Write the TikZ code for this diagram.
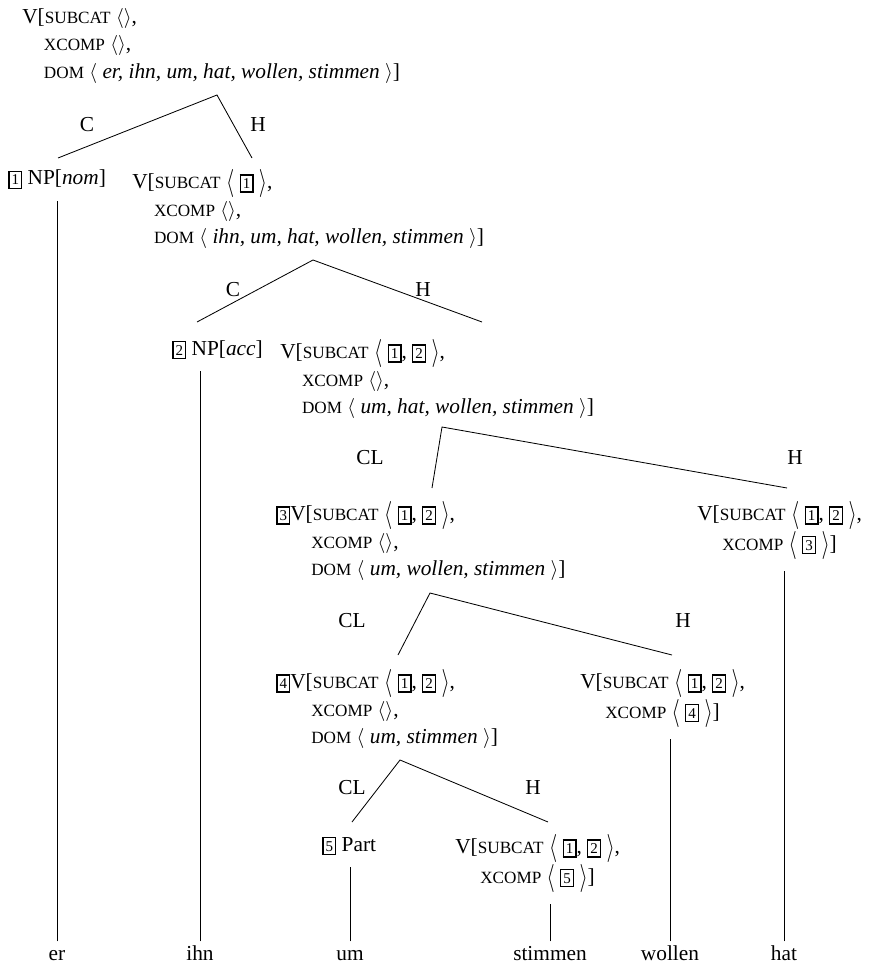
\documentclass[tikz,border=0pt]{standalone}
\usepackage{fontspec}
\setmainfont{Liberation Serif}
\usetikzlibrary{positioning}

% feature names, boxed tags and lists
\newcommand{\feat}[1]{{\fontsize{10.3}{11}\selectfont #1}}
\newcommand{\tagbox}[1]{{\setlength{\fboxsep}{1.2pt}\setlength{\fboxrule}{0.75pt}\fbox{\fontsize{9}{9}\selectfont\rule[-0.6pt]{0pt}{7pt}#1}}}
\newcommand{\nolist}{$\langle\rangle$}
\newcommand{\lang}{$\vcenter{\hbox{\scalebox{1.05}[1.4]{$\langle$}}}$}
\newcommand{\rang}{$\vcenter{\hbox{\scalebox{1.05}[1.4]{$\rangle$}}}$}
\newcommand{\taglist}[1]{\lang\hspace{3.2pt}#1\hspace{3.2pt}\rang}

\begin{document}
\begin{tikzpicture}[
  x=0.6pt, y=-0.6pt,
  font=\fontsize{12.8}{16.6}\selectfont,
  avm/.style={anchor=north west, inner sep=0pt, align=left},
  cat/.style={anchor=base west, inner sep=0pt},
  word/.style={anchor=base, inner sep=0pt, text height=8pt, text depth=2pt},
  lbl/.style={inner sep=0pt},
  branch/.style={line width=0.5pt},
  stem/.style={line width=0.5pt, shorten >=7pt, shorten <=3pt},
]
\useasboundingbox (0,0) rectangle (873,970);

% Root
\node[avm] (root) at (22,8) {V[\feat{SUBCAT} \nolist,\\
  \hspace*{13pt}\feat{XCOMP} \nolist,\\
  \hspace*{13pt}\feat{DOM} $\langle$ \textit{er, ihn, um, hat, wollen, stimmen} $\rangle$]};

\coordinate (b1) at (217,95);
\coordinate (b1l) at (58,158);
\coordinate (b1r) at (252,158);
\draw[branch] (b1l) -- (b1) -- (b1r);
\node[lbl] (c1) at (87,125) {C};
\node[lbl] (h1) at (258,125) {H};

% Level 1
\node[cat] (np1) at (8,185) {\tagbox{1} NP[\textit{nom}]};
\node[avm] (v1) at (132,169) {V[\feat{SUBCAT} \taglist{\tagbox{1}},\\
  \hspace*{13pt}\feat{XCOMP} \nolist,\\
  \hspace*{13pt}\feat{DOM} $\langle$ \textit{ihn, um, hat, wollen, stimmen} $\rangle$]};

\coordinate (b2) at (313,260);
\coordinate (b2l) at (197,322);
\coordinate (b2r) at (482,322);
\draw[branch] (b2l) -- (b2) -- (b2r);
\node[lbl] (c2) at (233,290) {C};
\node[lbl] (h2) at (423,290) {H};

% Level 2
\node[cat] (np2) at (172,355) {\tagbox{2} NP[\textit{acc}]};
\node[avm] (v2) at (280,339) {V[\feat{SUBCAT} \taglist{\tagbox{1}, \tagbox{2}},\\
  \hspace*{13pt}\feat{XCOMP} \nolist,\\
  \hspace*{13pt}\feat{DOM} $\langle$ \textit{um, hat, wollen, stimmen} $\rangle$]};

\coordinate (b3) at (442,427);
\coordinate (b3l) at (432,488);
\coordinate (b3r) at (787,488);
\draw[branch] (b3l) -- (b3) -- (b3r);
\node[lbl] (c3) at (370,458) {CL};
\node[lbl] (h3) at (795,458) {H};

% Level 3
\node[avm] (v3) at (276,501) {\tagbox{3}V[\feat{SUBCAT} \taglist{\tagbox{1}, \tagbox{2}},\\
  \hspace*{21pt}\feat{XCOMP} \nolist,\\
  \hspace*{21pt}\feat{DOM} $\langle$ \textit{um, wollen, stimmen} $\rangle$]};
\node[avm] (hv3) at (697,501) {V[\feat{SUBCAT} \taglist{\tagbox{1}, \tagbox{2}},\\
  \hspace*{15pt}\feat{XCOMP} \taglist{\tagbox{3}}]};

\coordinate (b4) at (430,593);
\coordinate (b4l) at (398,655);
\coordinate (b4r) at (672,655);
\draw[branch] (b4l) -- (b4) -- (b4r);
\node[lbl] (c4) at (352,621) {CL};
\node[lbl] (h4) at (683,621) {H};

% Level 4
\node[avm] (v4) at (276,669) {\tagbox{4}V[\feat{SUBCAT} \taglist{\tagbox{1}, \tagbox{2}},\\
  \hspace*{21pt}\feat{XCOMP} \nolist,\\
  \hspace*{21pt}\feat{DOM} $\langle$ \textit{um, stimmen} $\rangle$]};
\node[avm] (hv4) at (580,669) {V[\feat{SUBCAT} \taglist{\tagbox{1}, \tagbox{2}},\\
  \hspace*{15pt}\feat{XCOMP} \taglist{\tagbox{4}}]};

\coordinate (b5) at (400,760);
\coordinate (b5l) at (352,822);
\coordinate (b5r) at (548,822);
\draw[branch] (b5l) -- (b5) -- (b5r);
\node[lbl] (c5) at (352,788) {CL};
\node[lbl] (h5) at (533,788) {H};

% Level 5
\node[cat] (part) at (322,851) {\tagbox{5} Part};
\node[avm] (hv5) at (455,834) {V[\feat{SUBCAT} \taglist{\tagbox{1}, \tagbox{2}},\\
  \hspace*{15pt}\feat{XCOMP} \taglist{\tagbox{5}}]};

% Words
\node[word] (er) at (57,960) {er};
\node[word] (ihn) at (200,960) {ihn};
\node[word] (um) at (350,960) {um};
\node[word] (stimmen) at (550,960) {stimmen};
\node[word] (wollen) at (670,960) {wollen};
\node[word] (hat) at (784,960) {hat};

\draw[stem] (er.north) -- (er.north |- np1.south);
\draw[stem] (ihn.north) -- (ihn.north |- np2.south);
\draw[stem] (um.north) -- (um.north |- part.south);
\draw[stem] (stimmen.north) -- (stimmen.north |- hv5.south);
\draw[stem] (wollen.north) -- (wollen.north |- hv4.south);
\draw[stem] (hat.north) -- (hat.north |- hv3.south);

\end{tikzpicture}
\end{document}
